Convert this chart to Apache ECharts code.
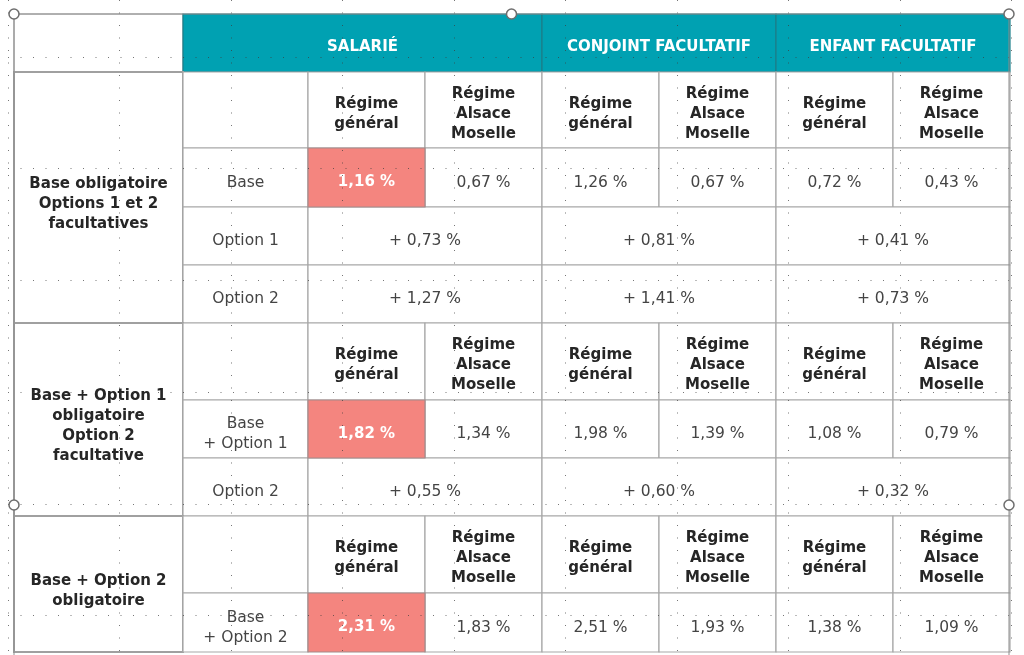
<!DOCTYPE html>
<html>
<head>
<meta charset="utf-8">
<title>Tarifs</title>
<script src="https://cdn.jsdelivr.net/npm/echarts@6/dist/echarts.min.js"></script>
<style>
    html, body {margin: 0; padding: 0; background: #fff;}
    #main {width: 1024px; height: 655px;}
</style>
</head>
<body>
<div id="main"></div>
<script>
// données du tableau
var groups = ['SALARIÉ', 'CONJOINT FACULTATIF', 'ENFANT FACULTATIF'];
var regimes = ['Régime\ngénéral', 'Régime\nAlsace\nMoselle'];
var blocks = [
    'Base obligatoire\nOptions 1 et 2\nfacultatives',
    'Base + Option 1\nobligatoire\nOption 2\nfacultative',
    'Base + Option 2\nobligatoire'
];
var baseLabels = ['Base', 'Base\n+ Option 1', 'Base\n+ Option 2'];
// taux de base : salarié RG, salarié AM, conjoint RG, conjoint AM, enfant RG, enfant AM
var baseRates = [
    [1.16, 0.67, 1.26, 0.67, 0.72, 0.43],
    [1.82, 1.34, 1.98, 1.39, 1.08, 0.79],
    [2.31, 1.83, 2.51, 1.93, 1.38, 1.09]
];
var optionLabels = [['Option 1', 'Option 2'], ['Option 2'], []];
// options : salarié, conjoint, enfant
var optionRates = [
    [[0.73, 0.81, 0.41], [1.27, 1.41, 0.73]],
    [[0.55, 0.60, 0.32]],
    []
];

// mise en page (bords des colonnes / lignes en pixels)
var colEdges = [14, 183, 308, 425, 542, 659, 776, 893, 1010];
var rowEdges = [14, 72, 148, 207, 265, 323, 400, 458, 516, 593, 652];
var FONT = '"DejaVu Sans", Verdana, sans-serif';

var styles = {
    blank:     {fill: '#fff', stroke: '#a8a8a8', lw: 1.2},
    header:    {fill: '#00a1b2', stroke: '#1b7f8a', lw: 1.2, color: '#fff', weight: 'bold', size: 15, dy: 4},
    block:     {fill: '#fff', stroke: '#a0a0a0', lw: 2, color: '#262626', weight: 'bold', size: 15, dy: 7},
    sub:       {fill: '#fff', stroke: '#a8a8a8', lw: 1.2, color: '#262626', weight: 'bold', size: 15, dy: 4},
    label:     {fill: '#fff', stroke: '#a8a8a8', lw: 1.2, color: '#444', weight: 'normal', size: 15.5, dy: 5},
    value:     {fill: '#fff', stroke: '#a8a8a8', lw: 1.2, color: '#444', weight: 'normal', size: 15.5, dy: 5},
    highlight: {fill: '#f4857f', stroke: '#a48a8a', lw: 1.2, color: '#fff', weight: 'bold', size: 15, dy: 5}
};

function fmt(v) {
    return v.toFixed(2).replace('.', ',') + ' %';
}

// construction des cellules
var cells = [];
cells.push({c0: 0, c1: 1, r0: 0, r1: 1, text: '', kind: 'blank'});
groups.forEach(function (g, i) {
    cells.push({c0: i === 0 ? 1 : 2 + 2 * i, c1: 4 + 2 * i, r0: 0, r1: 1, text: g, kind: 'header'});
});
var r = 1;
var highlights = [];
blocks.forEach(function (b, bi) {
    var n = 2 + optionLabels[bi].length;
    cells.push({c0: 0, c1: 1, r0: r, r1: r + n, text: b, kind: 'block'});
    // sous-titres
    cells.push({c0: 1, c1: 2, r0: r, r1: r + 1, text: '', kind: 'blank'});
    for (var g = 0; g < groups.length; g++) {
        for (var k = 0; k < regimes.length; k++) {
            cells.push({c0: 2 + 2 * g + k, c1: 3 + 2 * g + k, r0: r, r1: r + 1, text: regimes[k], kind: 'sub'});
        }
    }
    // ligne de base
    cells.push({c0: 1, c1: 2, r0: r + 1, r1: r + 2, text: baseLabels[bi], kind: 'label'});
    baseRates[bi].forEach(function (v, j) {
        var c = {c0: 2 + j, c1: 3 + j, r0: r + 1, r1: r + 2, text: fmt(v), kind: j === 0 ? 'highlight' : 'value'};
        if (j === 0) highlights.push(c); else cells.push(c);
    });
    // options
    optionLabels[bi].forEach(function (lab, oi) {
        var rr = r + 2 + oi;
        cells.push({c0: 1, c1: 2, r0: rr, r1: rr + 1, text: lab, kind: 'label'});
        optionRates[bi][oi].forEach(function (v, g) {
            cells.push({c0: 2 + 2 * g, c1: 4 + 2 * g, r0: rr, r1: rr + 1, text: '+ ' + fmt(v), kind: 'value'});
        });
    });
    r += n;
});
cells = cells.concat(highlights);

function renderCell(params, api) {
    var c = cells[params.dataIndex];
    var st = styles[c.kind];
    var p0 = api.coord([api.value(0), api.value(1)]);
    var p1 = api.coord([api.value(2), api.value(3)]);
    var children = [{
        type: 'rect',
        shape: {x: p0[0], y: p0[1], width: p1[0] - p0[0], height: p1[1] - p0[1]},
        style: {fill: st.fill, stroke: st.stroke, lineWidth: st.lw}
    }];
    if (c.text) {
        children.push({
            type: 'text',
            style: {
                text: c.text,
                x: (p0[0] + p1[0]) / 2,
                y: (p0[1] + p1[1]) / 2 + st.dy,
                align: 'center',
                verticalAlign: 'middle',
                fill: st.color,
                fontSize: st.size,
                fontWeight: st.weight,
                fontFamily: FONT,
                lineHeight: 20
            }
        });
    }
    return {type: 'group', children: children};
}

// cadre de sélection (poignées)
var selBox = [colEdges[0], rowEdges[0], colEdges[8] - 1, 996];

function renderSelection(params, api) {
    var p0 = api.coord([api.value(0), api.value(1)]);
    var p1 = api.coord([api.value(2), api.value(3)]);
    var mx = (p0[0] + p1[0]) / 2, my = (p0[1] + p1[1]) / 2;
    var pts = [[p0[0], p0[1]], [mx, p0[1]], [p1[0], p0[1]], [p0[0], my], [p1[0], my]];
    var children = [{
        type: 'rect',
        shape: {x: p0[0], y: p0[1], width: p1[0] - p0[0], height: p1[1] - p0[1]},
        style: {fill: 'none', stroke: '#8c8c8c', lineWidth: 1}
    }];
    pts.forEach(function (p) {
        children.push({
            type: 'circle',
            shape: {cx: p[0], cy: p[1], r: 5},
            style: {fill: '#fff', stroke: '#6e6e6e', lineWidth: 1.5}
        });
    });
    return {type: 'group', children: children};
}

var dotted = {color: 'rgba(60,60,60,0.7)', width: 1, type: [1, 11.5]};
var hidden = {axisLine: {show: false}, axisTick: {show: false}, axisLabel: {show: false}};

var myChart = echarts.init(document.getElementById('main'));
var option = {
    animation: false,
    grid: [
        {left: 0, top: 0, right: 0, bottom: 0},
        {left: 8, top: 0, right: 0, bottom: 0},
        {left: 8, top: 57, right: 12, bottom: 0}
    ],
    xAxis: [
        Object.assign({type: 'value', gridIndex: 0, min: 0, max: 1024, splitLine: {show: false}}, hidden),
        Object.assign({type: 'value', gridIndex: 1, min: 0, max: 1016, interval: 111.5, z: 10,
            splitLine: {show: true, lineStyle: dotted}}, hidden),
        Object.assign({type: 'value', gridIndex: 2, min: 0, max: 1004, splitLine: {show: false}}, hidden)
    ],
    yAxis: [
        Object.assign({type: 'value', gridIndex: 0, min: 0, max: 655, inverse: true, splitLine: {show: false}}, hidden),
        Object.assign({type: 'value', gridIndex: 1, min: 0, max: 655, splitLine: {show: false}}, hidden),
        Object.assign({type: 'value', gridIndex: 2, min: 0, max: 598, interval: 111.7, inverse: true, z: 10,
            splitLine: {show: true, lineStyle: dotted}}, hidden)
    ],
    series: [{
        type: 'custom',
        xAxisIndex: 0,
        yAxisIndex: 0,
        renderItem: renderCell,
        encode: {x: [0, 2], y: [1, 3]},
        data: cells.map(function (c) {
            return [colEdges[c.c0], rowEdges[c.r0], colEdges[c.c1], rowEdges[c.r1]];
        }),
        silent: true,
        z: 2
    }, {
        type: 'custom',
        xAxisIndex: 0,
        yAxisIndex: 0,
        renderItem: renderSelection,
        encode: {x: [0, 2], y: [1, 3]},
        data: [selBox],
        silent: true,
        z: 20
    }]
};
if (option && typeof option === "object") {
    myChart.setOption(option, true);
}
</script>
</body>
</html>
